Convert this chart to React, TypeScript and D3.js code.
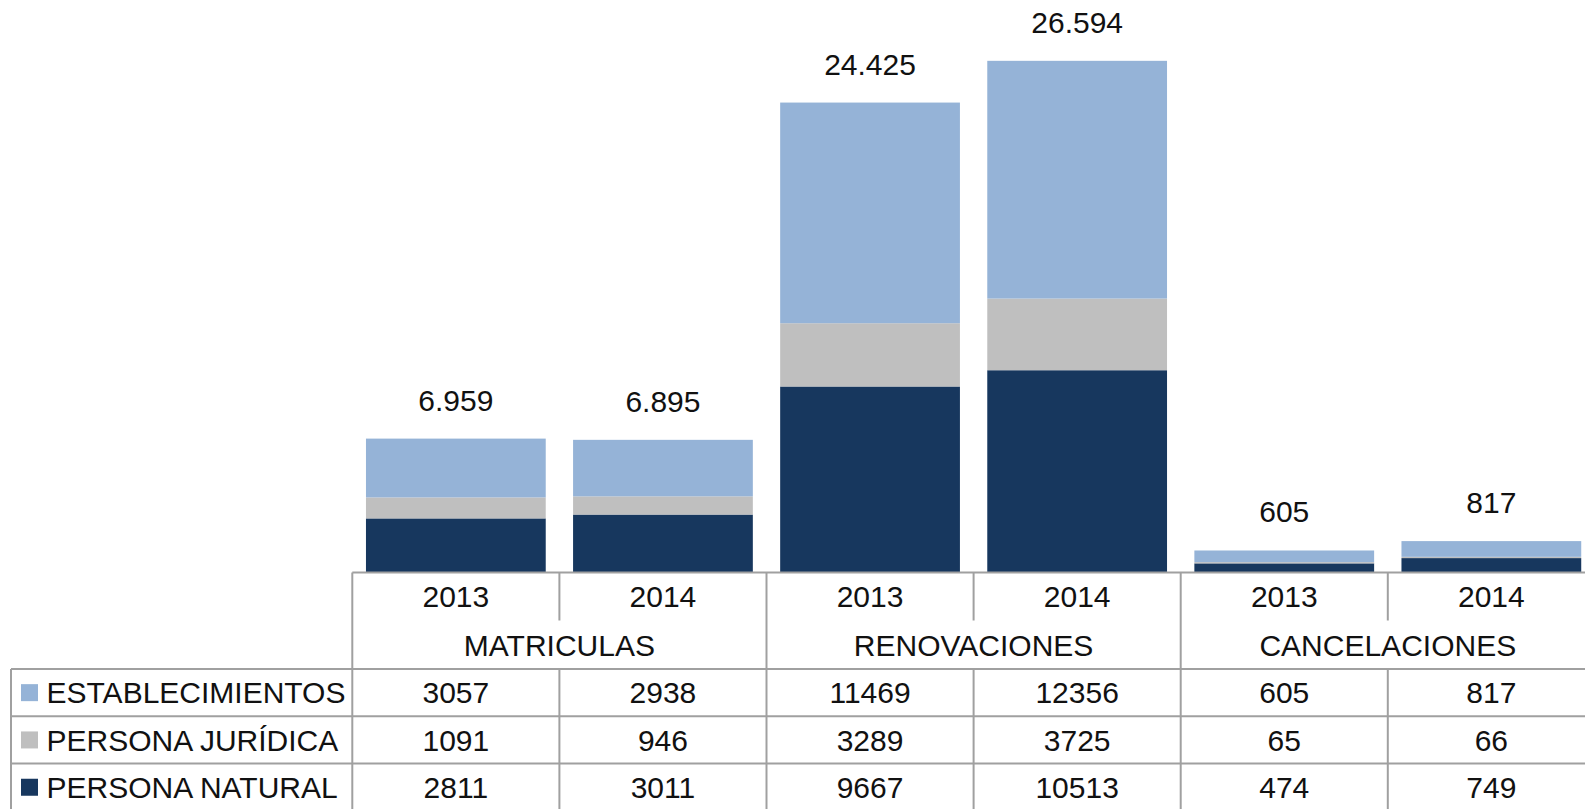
import React from "react";
import { scaleBand, scaleLinear, stack, formatLocale } from "d3";

// categories / years shown in the table header
const categories = ["MATRICULAS", "RENOVACIONES", "CANCELACIONES"];
const years = ["2013", "2014"];

// series values, one per column (category x year)
const establecimientos = [3057, 2938, 11469, 12356, 605, 817];
const personaJuridica = [1091, 946, 3289, 3725, 65, 66];
const personaNatural = [2811, 3011, 9667, 10513, 474, 749];

// labels printed above each stack
const totalLabels = [6959, 6895, 24425, 26594, 605, 817];

const seriesNames = ["PERSONA NATURAL", "PERSONA JURÍDICA", "ESTABLECIMIENTOS"];
const seriesColors = ["#17375e", "#bfbfbf", "#95b3d7"];

const WIDTH = 1585;
const HEIGHT = 809;
const FONT = "'Liberation Sans', Arial, sans-serif";
const FS = 30;
const GRID = "#a0a0a0";

const es = formatLocale({
  decimal: ",",
  thousands: ".",
  grouping: [3],
  currency: ["", ""],
});
const fmtTotal = es.format(",");

export default function App() {
  const columns = categories.flatMap(c => years.map(y => `${c}|${y}`));
  const rows = columns.map((key, i) => ({
    key,
    natural: personaNatural[i],
    juridica: personaJuridica[i],
    establecimientos: establecimientos[i],
  }));
  const stacked = stack<any>().keys(["natural", "juridica", "establecimientos"])(rows);

  // layout
  const tableLeft = 352.3;
  const colW = 207.1;
  const baseline = 572.5;
  const yearRowBottom = 620.5;
  const headBottom = 669;
  const rowH = 47.3;
  const legendLeft = 11;

  const xScale = scaleBand()
    .domain(columns)
    .range([tableLeft, tableLeft + colW * columns.length])
    .paddingInner(0)
    .paddingOuter(0);
  const barInset = xScale.bandwidth() * 0.066;
  const barW = xScale.bandwidth() - 2 * barInset;

  const yScale = scaleLinear().domain([0, 30000]).range([baseline, baseline - 577.2]);

  const tableRight = tableLeft + colW * columns.length;
  const tableBottom = headBottom + rowH * 3;

  // table rows from top to bottom (legend order)
  const tableSeries = [
    { name: seriesNames[2], color: seriesColors[2], values: establecimientos },
    { name: seriesNames[1], color: seriesColors[1], values: personaJuridica },
    { name: seriesNames[0], color: seriesColors[0], values: personaNatural },
  ];

  const textBase = (top: number, bottom: number) => (top + bottom) / 2 + FS * 0.36;

  return (
    <svg
      width={WIDTH}
      height={HEIGHT}
      style={{ position: "absolute", left: 0, top: 0, background: "#fff" }}
      fontFamily={FONT}
    >
      <rect width={WIDTH} height={HEIGHT} fill="#fff" />
      {/* bars */}
      {stacked.map((layer, li) => (
        <g key={layer.key} fill={seriesColors[li]}>
          {layer.map((d, i) => (
            <rect
              key={i}
              x={(xScale(columns[i]) as number) + barInset}
              y={yScale(d[1])}
              width={barW}
              height={yScale(d[0]) - yScale(d[1])}
            />
          ))}
        </g>
      ))}
      {/* total labels */}
      {columns.map((c, i) => {
        const top = yScale(stacked[stacked.length - 1][i][1]);
        return (
          <text
            key={c}
            x={(xScale(c) as number) + xScale.bandwidth() / 2}
            y={top - 28}
            textAnchor="middle"
            fontSize={FS}
            fill="#111"
          >
            {fmtTotal(totalLabels[i])}
          </text>
        );
      })}

      {/* data table */}
      <g stroke={GRID} strokeWidth={2} fill="none">
        <line x1={tableLeft} x2={tableRight} y1={baseline} y2={baseline} />
        <line x1={legendLeft} x2={tableRight} y1={headBottom} y2={headBottom} />
        {[1, 2, 3].map(r => (
          <line
            key={r}
            x1={legendLeft}
            x2={tableRight}
            y1={headBottom + rowH * r}
            y2={headBottom + rowH * r}
          />
        ))}
        <line x1={legendLeft} x2={legendLeft} y1={headBottom} y2={tableBottom} />
        {columns.map((c, i) => {
          const x = xScale(c) as number;
          const isCatStart = i % years.length === 0;
          return isCatStart ? (
            <line key={c} x1={x} x2={x} y1={baseline} y2={tableBottom} />
          ) : (
            <g key={c}>
              <line x1={x} x2={x} y1={baseline} y2={yearRowBottom} />
              <line x1={x} x2={x} y1={headBottom} y2={tableBottom} />
            </g>
          );
        })}
        <line x1={tableRight} x2={tableRight} y1={baseline} y2={tableBottom} />
      </g>

      <g fontSize={FS} fill="#111" textAnchor="middle">
        {columns.map(c => (
          <text
            key={c}
            x={(xScale(c) as number) + xScale.bandwidth() / 2}
            y={textBase(baseline, yearRowBottom)}
          >
            {c.split("|")[1]}
          </text>
        ))}
        {categories.map((cat, ci) => (
          <text
            key={cat}
            x={tableLeft + colW * years.length * (ci + 0.5)}
            y={textBase(yearRowBottom, headBottom)}
          >
            {cat}
          </text>
        ))}
        {tableSeries.map((s, ri) =>
          s.values.map((v, i) => (
            <text
              key={s.name + i}
              x={(xScale(columns[i]) as number) + xScale.bandwidth() / 2}
              y={textBase(headBottom + rowH * ri, headBottom + rowH * (ri + 1))}
            >
              {v}
            </text>
          ))
        )}
      </g>

      {/* legend keys */}
      {tableSeries.map((s, ri) => {
        const cy = headBottom + rowH * (ri + 0.5);
        return (
          <g key={s.name}>
            <rect x={21} y={cy - 8.5} width={17} height={17} fill={s.color} />
            <text x={46.5} y={cy + FS * 0.36} fontSize={FS} fill="#111">
              {s.name}
            </text>
          </g>
        );
      })}
    </svg>
  );
}
